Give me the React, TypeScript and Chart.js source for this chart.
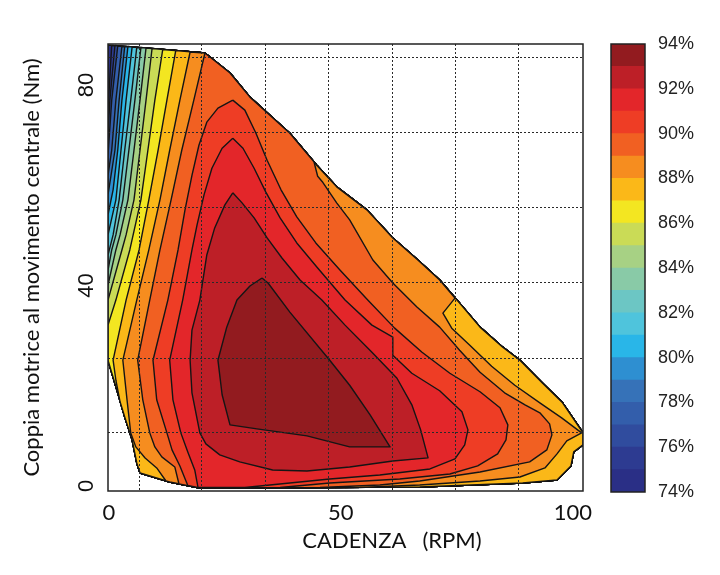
import { useEffect, useRef } from "react";
import Chart from "chart.js/auto";

type Pt = [number, number];

// efficiency bands, one colour per 1 %
const levels = [74, 75, 76, 77, 78, 79, 80, 81, 82, 83, 84, 85, 86, 87, 88, 89, 90, 91, 92, 93];
const levelColors = [
  "#2a2f86", "#2d3b91", "#304c9e", "#335eab", "#3672b8", "#2e8fd1", "#29b6e8",
  "#4fc4dc", "#6cc6c4", "#89caa7", "#a7d184", "#cadb56", "#f3e621", "#fbb818",
  "#f68d1f", "#f16022", "#ee3d25", "#e3262a", "#bd1f27", "#921b1f",
];

const xGridValues = [6.5, 20.0, 33.8, 47.4, 61.2, 74.8, 88.4];
const yGridValues = [10.6, 25.5, 40.7, 55.5, 70.6, 85.6];
const xTickLabels = [0, 50, 100];
const yTickLabels = [0, 40, 80];
const barTicks = [74, 76, 78, 80, 82, 84, 86, 88, 90, 92, 94];

// outline of the measured map (cadence, torque), clockwise from top left
const edge: Pt[] = [
  [-0.2, 88.0], [20.7, 86.4], [26.1, 82.4], [30.4, 77.6], [34.7, 74.0], [39.0, 70.4],
  [44.8, 64.0], [49.1, 59.7], [55.6, 55.1], [61.2, 49.5], [66.6, 45.1], [71.3, 41.1],
  [75.6, 36.5], [80.0, 31.7], [84.9, 27.7], [88.6, 25.1], [93.5, 20.5], [97.8, 16.6],
  [102.2, 10.6], [102.2, 8.2], [100.2, 6.8], [99.6, 4.0], [96.6, 1.2], [89.2, 0.6],
  [67.0, -0.2], [19.6, -0.4], [13.1, 0.8], [6.7, 2.6], [6.0, 4.6], [5.0, 9.2],
  [3.4, 13.8], [1.7, 19.2], [-0.2, 25.1],
];

// iso-efficiency lines, low cadence side (top edge -> left edge)
const iso75: Pt[] = [[0.6, 87.9], [-0.2, 75.0]];
const iso76: Pt[] = [[1.3, 87.9], [0.2, 77.0], [-0.2, 70.0]];
const iso77: Pt[] = [[1.9, 87.8], [0.6, 77.0], [-0.2, 66.0]];
const iso78: Pt[] = [[2.8, 87.7], [1.5, 77.0], [0.6, 67.0], [-0.2, 62.0]];
const iso79: Pt[] = [[3.4, 87.7], [2.2, 77.0], [1.3, 67.0], [-0.2, 58.1]];
const iso80: Pt[] = [[4.1, 87.7], [2.8, 77.0], [1.9, 67.0], [0.9, 59.1], [-0.2, 54.1]];
const iso81: Pt[] = [[5.0, 87.6], [3.7, 77.0], [2.6, 67.0], [1.5, 57.1], [-0.2, 50.1]];
const iso82: Pt[] = [[6.0, 87.5], [4.7, 77.0], [3.4, 67.0], [2.2, 57.1], [0.9, 50.1], [-0.2, 46.1]];
const iso83: Pt[] = [[6.9, 87.5], [5.6, 77.0], [4.3, 67.0], [3.0, 57.1], [1.5, 50.1], [0.6, 47.1], [-0.2, 43.1]];
const iso84: Pt[] = [[8.0, 87.4], [6.7, 77.0], [5.4, 67.0], [4.1, 57.1], [2.4, 50.1], [1.5, 47.1], [-0.2, 40.1]];
const iso85: Pt[] = [[9.3, 87.3], [8.0, 77.0], [6.7, 67.0], [5.4, 57.1], [3.7, 50.1], [2.8, 47.1], [-0.2, 37.1]];
const iso86: Pt[] = [[11.6, 87.1], [9.9, 77.0], [8.4, 67.0], [6.9, 57.1], [4.5, 47.1], [1.5, 37.1], [-0.2, 32.1]];
const iso87: Pt[] = [
  [14.4, 86.9], [12.5, 77.0], [10.6, 67.0], [8.6, 57.1], [6.5, 47.1], [3.7, 37.1],
  [0.9, 25.1], [1.5, 21.1], [2.4, 16.8],
];

// 88 % and 89 %: left branch, then the branch along the bottom and the diagonal edge
const iso88Left: Pt[] = [
  [17.5, 86.6], [15.3, 77.0], [13.1, 67.0], [11.0, 57.1], [8.6, 47.1], [6.0, 37.1],
  [3.0, 25.1], [3.9, 17.2], [4.7, 10.6], [5.8, 7.8], [7.8, 5.6], [10.3, 3.6], [12.3, 1.0],
];
const iso88Right: Pt[] = [
  [54.1, -0.3], [67.0, 0.2], [80.0, 1.0], [88.6, 1.8], [94.0, 3.6], [96.6, 6.4],
  [98.7, 9.0], [101.9, 10.6], [97.6, 13.6], [92.9, 16.6], [87.5, 20.1], [82.5, 23.9],
  [77.8, 28.1], [73.9, 31.5], [72.0, 34.5], [74.6, 37.5],
];
const iso89Left: Pt[] = [
  [20.7, 86.4], [18.3, 77.0], [15.7, 67.0], [13.4, 57.1], [11.0, 47.1], [8.8, 37.1],
  [6.2, 25.1], [7.3, 17.2], [8.8, 10.6], [9.9, 7.8], [11.4, 5.8], [14.2, 3.8], [15.1, 0.4],
];
const iso89Right: Pt[] = [
  [45.5, -0.3], [58.4, 0.2], [67.0, 1.0], [80.0, 2.8], [90.7, 4.8], [94.4, 7.2],
  [95.5, 10.2], [95.0, 12.4], [92.9, 14.6], [89.7, 16.2], [85.3, 18.6], [80.0, 22.7],
  [75.6, 27.1], [71.3, 31.7], [66.4, 35.7], [61.2, 40.5], [56.9, 45.1], [51.9, 53.1],
  [49.1, 56.5], [46.1, 60.6], [45.0, 61.8], [44.2, 64.7],
];

// closed islands
const iso90: Pt[] = [
  [26.7, 77.0], [23.5, 75.4], [21.1, 72.6], [19.4, 68.0], [17.9, 62.0], [16.4, 55.1],
  [14.9, 47.1], [12.7, 37.1], [9.5, 25.1], [10.3, 17.2], [12.5, 10.6], [13.6, 7.2],
  [15.3, 4.0], [17.0, 0.1], [19.6, -0.4], [36.9, -0.3], [47.6, 0.6], [62.7, 1.4],
  [73.5, 2.4], [79.5, 4.0], [83.8, 6.4], [85.6, 9.2], [86.0, 12.2], [84.3, 15.6],
  [80.0, 18.8], [73.5, 22.5], [67.5, 26.7], [61.6, 31.5], [55.8, 37.1], [49.8, 43.1],
  [44.6, 48.5], [40.5, 53.7], [37.1, 59.1], [34.1, 65.0], [31.7, 70.4], [29.3, 75.0],
];
const iso91: Pt[] = [
  [26.7, 69.4], [24.4, 67.4], [22.2, 63.4], [20.5, 58.1], [19.0, 52.1], [17.9, 47.1],
  [15.9, 37.1], [13.1, 25.1], [13.8, 17.2], [15.5, 10.6], [17.0, 6.8], [18.5, 3.2],
  [19.2, -0.3], [29.3, -0.3], [34.7, 0.2], [47.6, 1.4], [58.4, 2.2], [69.2, 3.4],
  [74.6, 5.4], [76.7, 8.2], [77.4, 11.2], [76.1, 14.8], [71.3, 19.0], [65.3, 22.5],
  [61.2, 26.1], [61.2, 29.7], [56.7, 32.1], [50.9, 37.1], [45.0, 43.5], [40.5, 48.5],
  [36.9, 53.5], [33.8, 58.7], [31.3, 63.4], [28.9, 67.4],
];
const iso92: Pt[] = [
  [26.7, 58.5], [25.0, 56.1], [22.8, 51.5], [21.1, 46.1], [19.6, 37.1], [17.9, 31.1],
  [17.5, 25.1], [17.9, 18.6], [19.6, 10.6], [20.9, 8.4], [23.9, 6.2], [28.2, 4.8],
  [35.3, 3.2], [42.7, 3.0], [51.9, 3.8], [61.2, 5.0], [68.8, 5.6], [67.2, 11.2],
  [65.3, 16.2], [62.1, 21.5], [56.7, 26.7], [50.9, 32.1], [45.9, 37.1], [41.2, 41.1],
  [37.3, 45.5], [34.1, 49.5], [31.3, 53.5], [28.7, 56.5],
];
const iso93: Pt[] = [
  [33.0, 41.5], [34.3, 40.5], [39.0, 34.7], [47.6, 25.1], [51.9, 20.1], [56.3, 14.2],
  [60.6, 7.8], [51.9, 7.8], [42.7, 10.0], [31.9, 11.4], [26.1, 12.2], [24.4, 18.2],
  [23.5, 25.1], [25.4, 31.7], [27.6, 37.1], [30.4, 39.9],
];

// walk the outline backwards, from index `from` down to `to`
const back = (from: number, to: number): Pt[] => {
  const out: Pt[] = [];
  for (let i = from; i >= to; i--) out.push(edge[i]);
  return out;
};

// region where efficiency >= level, same order as `levels`
const regions: Pt[][] = [
  edge,
  [...iso75, ...back(32, 1)],
  [...iso76, ...back(32, 1)],
  [...iso77, ...back(32, 1)],
  [...iso78, ...back(32, 1)],
  [...iso79, ...back(32, 1)],
  [...iso80, ...back(32, 1)],
  [...iso81, ...back(32, 1)],
  [...iso82, ...back(32, 1)],
  [...iso83, ...back(32, 1)],
  [...iso84, ...back(32, 1)],
  [...iso85, ...back(32, 1)],
  [...iso86, ...back(32, 1)],
  [...iso87, ...back(30, 1)],
  [...iso88Left, ...back(26, 25), ...iso88Right, ...back(11, 1)],
  [...iso89Left, edge[25], ...iso89Right, ...back(5, 2)],
  iso90,
  iso91,
  iso92,
  iso93,
];

// fills each closed contour with its band colour before its outline is stroked
const contourFill = {
  id: "contourFill",
  beforeDatasetDraw(chart: any, args: any) {
    const pts = args.meta.data;
    const ds = chart.data.datasets[args.index];
    if (!pts || pts.length < 3) return;
    const { ctx, chartArea: a } = chart;
    ctx.save();
    ctx.beginPath();
    ctx.rect(a.left, a.top, a.right - a.left, a.bottom - a.top);
    ctx.clip();
    ctx.beginPath();
    pts.forEach((p: any, i: number) => (i ? ctx.lineTo(p.x, p.y) : ctx.moveTo(p.x, p.y)));
    ctx.closePath();
    ctx.fillStyle = ds.backgroundColor;
    ctx.fill();
    ctx.restore();
  },
};

const framePlugin = {
  id: "frame",
  afterDraw(chart: any) {
    const { ctx, chartArea: a } = chart;
    ctx.save();
    ctx.strokeStyle = "#222";
    ctx.lineWidth = 1.5;
    ctx.strokeRect(a.left, a.top, a.right - a.left, a.bottom - a.top);
    ctx.restore();
  },
};

export default function App() {
  const mapRef = useRef<HTMLCanvasElement>(null);
  const barRef = useRef<HTMLCanvasElement>(null);

  useEffect(() => {
    if (!mapRef.current || !barRef.current) return;

    const datasets = regions.map((ring, i) => {
      const pts = ring.map(([x, y]) => ({ x, y }));
      pts.push({ ...pts[0] });
      return {
        label: `${levels[i]}%`,
        data: pts,
        showLine: true,
        fill: false,
        tension: 0,
        borderColor: "#151515",
        borderWidth: 1.4,
        borderJoinStyle: "round" as const,
        backgroundColor: levelColors[i],
        pointRadius: 0,
        pointHoverRadius: 0,
        order: -levels[i],
      };
    });

    const map = new Chart(mapRef.current, {
      type: "scatter",
      data: { datasets },
      options: {
        animation: false,
        responsive: false,
        events: [],
        layout: { padding: { left: 0, top: 44, right: 137, bottom: 0 } },
        plugins: { legend: { display: false }, tooltip: { enabled: false } },
        scales: {
          x: {
            type: "linear",
            min: -0.2,
            max: 102.2,
            afterBuildTicks: (s: any) => {
              s.ticks = [...xTickLabels, ...xGridValues]
                .sort((a, b) => a - b)
                .map((v) => ({ value: v }));
            },
            afterFit: (s: any) => {
              s.height = 84;
            },
            ticks: {
              autoSkip: false,
              maxRotation: 0,
              padding: 9,
              color: "#111",
              font: { family: "Lato", size: 22 },
              callback: (v: any) => (xTickLabels.includes(Number(v)) ? String(v) : ""),
            },
            grid: {
              drawTicks: false,
              lineWidth: 1,
              z: 1,
              color: (c: any) =>
                xGridValues.includes(c.tick?.value) ? "#2a2a2a" : "rgba(0,0,0,0)",
            },
            border: { display: false, dash: [2, 2] },
          },
          y: {
            type: "linear",
            min: -1,
            max: 88.2,
            afterBuildTicks: (s: any) => {
              s.ticks = [...yTickLabels, ...yGridValues]
                .sort((a, b) => a - b)
                .map((v) => ({ value: v }));
            },
            afterFit: (s: any) => {
              s.width = 108;
            },
            ticks: {
              autoSkip: false,
              minRotation: 90,
              maxRotation: 90,
              crossAlign: "center",
              padding: 9,
              color: "#111",
              font: { family: "Liberation Sans", size: 22 },
              callback: (v: any) => (yTickLabels.includes(Number(v)) ? String(v) : ""),
            },
            grid: {
              drawTicks: false,
              lineWidth: 1,
              z: 1,
              color: (c: any) =>
                yGridValues.includes(c.tick?.value) ? "#2a2a2a" : "rgba(0,0,0,0)",
            },
            border: { display: false, dash: [2, 2] },
            title: {
              display: true,
              text: "Coppia motrice al movimento centrale (Nm)",
              color: "#111",
              font: { family: "Lato", size: 22 },
              padding: { top: 19, bottom: 0 },
            },
          },
        },
      },
      plugins: [contourFill, framePlugin],
    });

    const bar = new Chart(barRef.current, {
      type: "bar",
      data: {
        labels: [""],
        datasets: levels.map((lv, i) => ({
          label: `${lv}%`,
          data: [[lv, lv + 1]] as any,
          backgroundColor: levelColors[i],
          borderWidth: 0,
          grouped: false,
          barPercentage: 1,
          categoryPercentage: 1,
        })),
      },
      options: {
        animation: false,
        responsive: false,
        events: [],
        layout: { padding: { left: 11, top: 44, right: 0, bottom: 83 } },
        plugins: { legend: { display: false }, tooltip: { enabled: false } },
        scales: {
          x: { display: false },
          y: {
            position: "right",
            min: 74,
            max: 94,
            afterBuildTicks: (s: any) => {
              s.ticks = barTicks.map((v) => ({ value: v }));
            },
            afterFit: (s: any) => {
              s.width = 75;
            },
            grid: { display: false },
            border: { display: false },
            ticks: {
              padding: 5,
              color: "#222",
              font: { family: "Liberation Sans", size: 18 },
              callback: (v: any) => `${v}%`,
            },
          },
        },
      },
      plugins: [framePlugin],
    });

    return () => {
      map.destroy();
      bar.destroy();
    };
  }, []);

  return (
    <div
      style={{
        position: "fixed",
        left: 0,
        top: 0,
        width: 720,
        height: 575,
        background: "#fff",
      }}
    >
      <canvas
        ref={mapRef}
        width={720}
        height={575}
        style={{ position: "absolute", left: 0, top: 0, width: 720, height: 575 }}
      />
      <canvas
        ref={barRef}
        width={120}
        height={575}
        style={{ position: "absolute", left: 600, top: 0, width: 120, height: 575 }}
      />
      <div
        style={{
          position: "absolute",
          left: 272,
          top: 527,
          width: 240,
          textAlign: "center",
          whiteSpace: "pre",
          fontFamily: "Lato",
          fontSize: 22,
          lineHeight: "26px",
          color: "#111",
        }}
      >
        CADENZA   (RPM)
      </div>
    </div>
  );
}
